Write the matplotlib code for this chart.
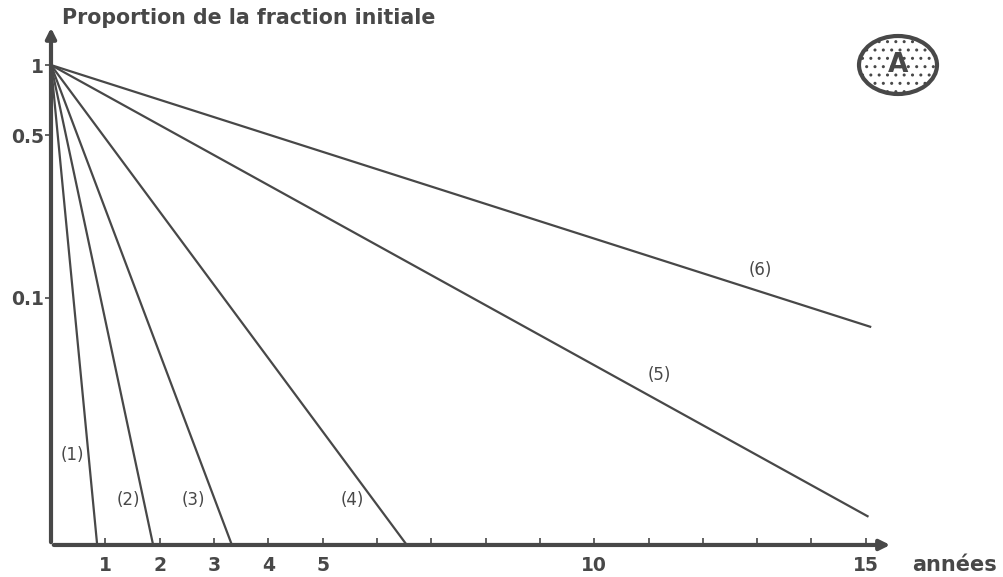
import matplotlib
matplotlib.use("Agg")
import matplotlib.pyplot as plt
from matplotlib.patches import Ellipse

# Decay curves: each falls from the initial fraction 1 at year 0 to its end point
curve_labels = ["(1)", "(2)", "(3)", "(4)", "(5)", "(6)"]
end_years = [0.85, 1.88, 3.33, 6.55, 15.05, 15.1]
end_fraction = [0.0087, 0.0087, 0.0087, 0.0087, 0.0115, 0.075]

# Positions of the curve labels (year, fraction)
label_years = [0.40, 1.42, 2.62, 5.54, 11.2, 13.06]
label_fraction = [0.0212, 0.0136, 0.0136, 0.0136, 0.0468, 0.132]

y_ticks = [1, 0.5, 0.1]
y_tick_labels = ["1", "0.5", "0.1"]
x_tick_values = [1, 2, 3, 4, 5, 10, 15]
x_minor = list(range(1, 16))

ink = "#484848"
plt.rcParams["font.family"] = ["DejaVu Sans"]
plt.rcParams["font.weight"] = "bold"

fig = plt.figure(figsize=(10.04, 5.77), dpi=100)
ax = fig.add_axes([0.0508, 0.0555, 0.8386, 0.9012])
ax.set_yscale("log")
ax.set_xlim(0, 15.5)
ax.set_ylim(0.0087, 1.486)

for x1, y1 in zip(end_years, end_fraction):
    ax.plot([0, x1], [1, y1], color=ink, lw=1.6, solid_capstyle="butt")

for lab, lx, ly in zip(curve_labels, label_years, label_fraction):
    ax.text(lx, ly, lab, ha="center", va="center", fontsize=12,
            fontweight="normal", color=ink)

for s in ax.spines.values():
    s.set_visible(False)

# Axes drawn as arrows
arrow = dict(arrowstyle="-|>,head_length=0.6,head_width=0.3", color=ink, lw=3)
ax.annotate("", xy=(1.0, 0.0), xytext=(0.0, 0.0), xycoords="axes fraction",
            textcoords="axes fraction", arrowprops=arrow)
ax.annotate("", xy=(0.0, 1.0), xytext=(0.0, 0.0), xycoords="axes fraction",
            textcoords="axes fraction", arrowprops=arrow)

ax.set_yticks(y_ticks)
ax.set_yticklabels(y_tick_labels)
ax.yaxis.set_minor_locator(matplotlib.ticker.NullLocator())
ax.tick_params(axis="y", direction="out", length=4, width=1.2, color=ink,
               labelsize=13.5, labelcolor=ink, pad=1)

ax.set_xticks(x_minor)
ax.set_xticklabels([str(v) if v in x_tick_values else "" for v in x_minor])
ax.tick_params(axis="x", direction="in", length=5, width=1.2, color=ink,
               labelsize=13.5, labelcolor=ink, pad=8)

fig.text(62 / 1004, 1 - 18 / 577, "Proportion de la fraction initiale",
         ha="left", va="center", fontsize=14.8, color=ink)
fig.text(955 / 1004, 1 - 565 / 577, "années", ha="center", va="center",
         fontsize=15, color=ink)

# Panel badge
badge = Ellipse((898 / 1004, 1 - 65 / 577), 78 / 1004, 58 / 577,
                transform=fig.transFigure, facecolor="white", edgecolor=ink,
                lw=3, hatch="..")
fig.add_artist(badge)
fig.text(898 / 1004, 1 - 65 / 577, "A", ha="center", va="center",
         fontsize=19, color=ink)

fig.savefig("out.png", dpi=100)
